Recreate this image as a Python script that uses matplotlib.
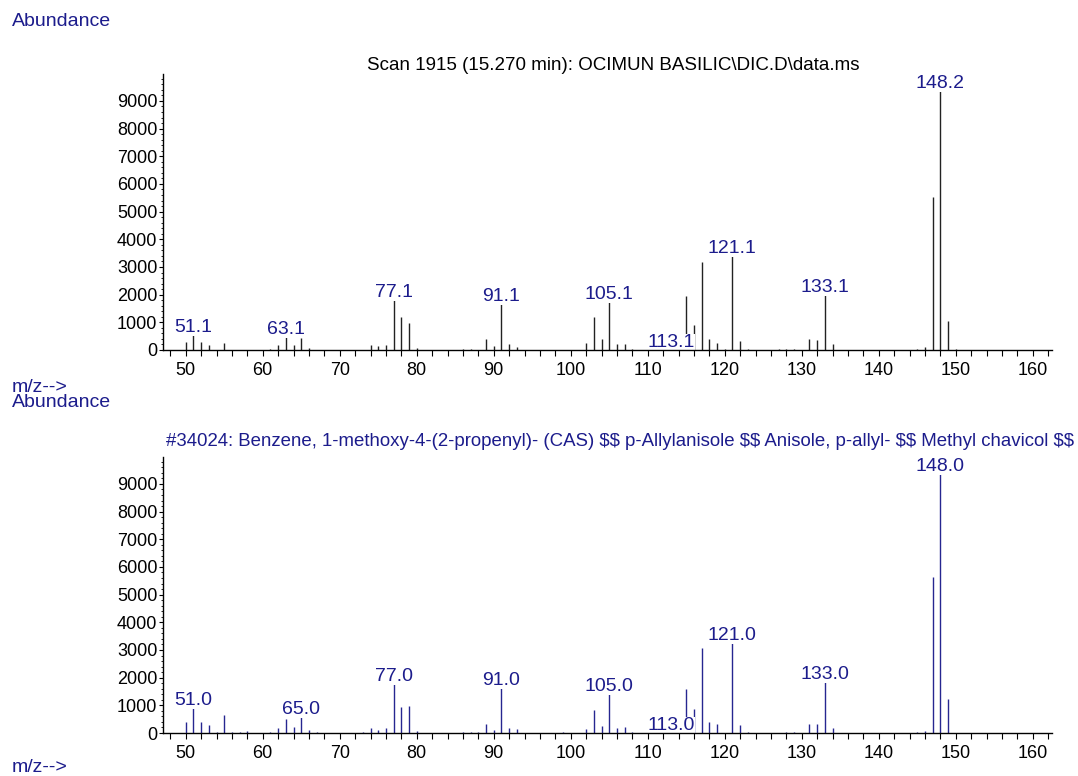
import matplotlib
matplotlib.use("Agg")
import matplotlib.pyplot as plt
from matplotlib.ticker import MultipleLocator

plt.rcParams['font.family'] = ['Liberation Sans', 'DejaVu Sans']

# ---------------- data ----------------
mz_top = [50, 51, 52, 53, 55, 61, 62, 63, 64, 65, 66, 74, 75, 76, 77, 78, 79, 80,
          86, 87, 89, 90, 91, 92, 93, 102, 103, 104, 105, 106, 107, 108, 113,
          115, 116, 117, 118, 119, 120, 121, 122, 123, 127, 128, 129, 131, 132,
          133, 134, 145, 146, 147, 148, 149, 150]
ab_top = [290, 580, 290, 180, 250, 40, 170, 500, 170, 445, 60, 170, 140, 170, 1840, 1200, 990, 60,
          30, 40, 410, 140, 1690, 220, 100, 250, 1200, 385, 1770, 220, 220, 40, 40,
          1950, 900, 3190, 400, 250, 20, 3430, 310, 30, 20, 30, 30, 400, 360,
          2020, 200, 30, 100, 5540, 9400, 1060, 50]
lab_top_mz = [51, 63, 77, 91, 105, 113, 121, 133, 148]
lab_top_txt = ["51.1", "63.1", "77.1", "91.1", "105.1", "113.1", "121.1", "133.1", "148.2"]

mz_bot = [50, 51, 52, 53, 54, 55, 56, 57, 58, 61, 62, 63, 64, 65, 66, 67, 73, 74, 75, 76,
          77, 78, 79, 80, 86, 87, 88, 89, 90, 91, 92, 93, 99, 102, 103, 104, 105, 106,
          107, 108, 113, 115, 116, 117, 118, 119, 121, 122, 123, 128, 129, 131, 132,
          133, 134, 145, 146, 147, 148, 149]
ab_bot = [380, 950, 410, 300, 40, 650, 30, 30, 80, 30, 180, 515, 215, 600, 95, 30, 30, 170, 120, 170,
          1790, 950, 980, 80, 30, 30, 30, 325, 120, 1670, 190, 140, 30, 155, 830, 260, 1450, 190,
          230, 40, 40, 1580, 860, 3060, 410, 325, 3290, 290, 30, 30, 30, 335, 335,
          1880, 190, 30, 85, 5630, 9380, 1220]
lab_bot_mz = [51, 65, 77, 91, 105, 113, 121, 133, 148]
lab_bot_txt = ["51.0", "65.0", "77.0", "91.0", "105.0", "113.0", "121.0", "133.0", "148.0"]

title_top = "Scan 1915 (15.270 min): OCIMUN BASILIC\\DIC.D\\data.ms"
title_bot = ("#34024: Benzene, 1-methoxy-4-(2-propenyl)- (CAS) $$ p-Allylanisole $$ "
             "Anisole, p-allyl- $$ Methyl chavicol $$")

NAVY = '#1c1c8c'
W, H = 1078, 776
YTOP = 9980
fig = plt.figure(figsize=(W / 100, H / 100), dpi=100)


def make_axes(bottom_px, mz, ab, lab_mz, lab_txt, bar_color):
    ax = fig.add_axes([163 / W, 1 - bottom_px / H, 889 / W, 276.2 / H])
    ax.vlines(mz, 0, ab, colors=bar_color, linewidth=1.0, zorder=2)
    lookup = dict(zip(mz, ab))
    for m, t in zip(lab_mz, lab_txt):
        ax.annotate(t, (m, lookup.get(m, 0)), xytext=(0, 1.5), textcoords='offset points',
                    ha='center', va='baseline', fontsize=14, color=NAVY, zorder=2.4,
                    annotation_clip=False,
                    bbox=dict(facecolor='white', edgecolor='none', pad=0.0))
    ax.set_xlim(47.05, 162.5)
    ax.set_ylim(0, YTOP)
    for s in ['top', 'right']:
        ax.spines[s].set_visible(False)
    for s in ['left', 'bottom']:
        ax.spines[s].set_linewidth(1.0)
        ax.spines[s].set_color('black')
        ax.spines[s].set_zorder(3)
    ax.xaxis.set_major_locator(MultipleLocator(10))
    ax.xaxis.set_minor_locator(MultipleLocator(2))
    ax.yaxis.set_major_locator(MultipleLocator(1000))
    ax.yaxis.set_minor_locator(MultipleLocator(200))
    ax.tick_params(axis='x', which='both', direction='out', length=4, width=0.8,
                   labelsize=13, pad=5)
    ax.tick_params(axis='y', which='major', direction='out', length=3, width=0.8,
                   labelsize=13, pad=1)
    ax.tick_params(axis='y', which='minor', direction='out', length=1.5, width=0.6)
    ax.set_facecolor('none')
    return ax


ax1 = make_axes(350, mz_top, ab_top, lab_top_mz, lab_top_txt, '#222222')
ax2 = make_axes(733, mz_bot, ab_bot, lab_bot_mz, lab_bot_txt, '#262690')

fig.text(613 / W, 1 - 65 / H, title_top, ha='center', va='center', fontsize=13.5,
         color='black')
fig.text(620 / W, 1 - 442 / H, title_bot, ha='center', va='center', fontsize=13.4,
         color=NAVY, parse_math=False)

fig.text(12 / W, 1 - 22 / H, "Abundance", ha='left', va='center', fontsize=14, color=NAVY)
fig.text(12 / W, 1 - 387 / H, "m/z-->", ha='left', va='center', fontsize=14, color=NAVY)
fig.text(12 / W, 1 - 402 / H, "Abundance", ha='left', va='center', fontsize=14, color=NAVY)
fig.text(12 / W, 1 - 767 / H, "m/z-->", ha='left', va='center', fontsize=14, color=NAVY)

fig.savefig("out.png", dpi=100, facecolor='white')
